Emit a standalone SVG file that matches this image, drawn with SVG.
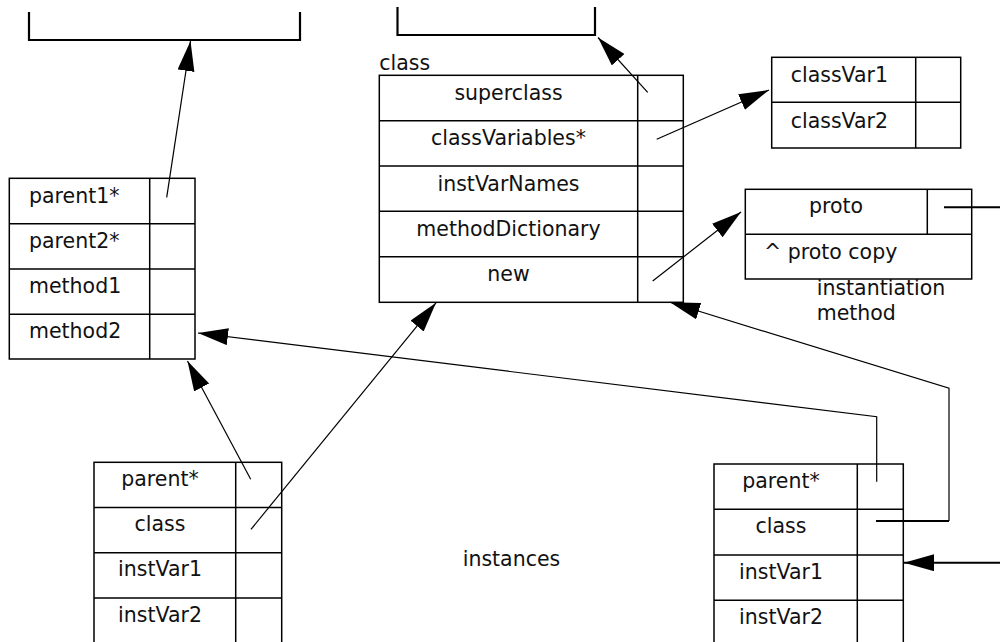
<svg xmlns="http://www.w3.org/2000/svg" width="1000" height="642" viewBox="0 0 1000 642">
  <style>
    text { font-family: "DejaVu Sans", Verdana, sans-serif; font-size: 20.5px; fill: #111; }
    .mid { text-anchor: middle; }
    .box { fill: #fff; stroke: #000; stroke-width: 1.5; }
    .div { stroke: #000; stroke-width: 1.5; fill: none; }
    .bracket { fill: none; stroke: #000; stroke-width: 2.2; }
    .link { fill: none; stroke: #000; stroke-width: 1.2; }
    .heavy { fill: none; stroke: #000; stroke-width: 2; }
  </style>
  <defs>
    <marker id="arrow" markerUnits="userSpaceOnUse" markerWidth="31" markerHeight="18" refX="30" refY="8.5" orient="auto">
      <path d="M0,0 L30,8.5 L0,17 z" fill="#000"/>
    </marker>
  </defs>

  <rect width="1000" height="642" fill="#fff"/>

  <!-- open-topped targets at the top edge -->
  <g id="target-left">
    <path class="bracket" d="M29,12 V40 H300 V12"/>
  </g>
  <g id="target-mid">
    <path class="bracket" d="M397.5,7 V35 H595 V7"/>
  </g>

  <!-- parent object with two parents and two methods -->
  <g id="parent-object">
    <rect class="box" x="9.3" y="178.3" width="185.7" height="180.7"/>
    <path class="div" d="M149.7,178.3 V359 M9.3,223.7 H195 M9.3,269 H195 M9.3,314.3 H195"/>
    <text x="29" y="202.5">parent1*</text>
    <text x="29" y="247.8">parent2*</text>
    <text x="29" y="293">method1</text>
    <text x="29" y="338.3">method2</text>
  </g>

  <!-- class object -->
  <g id="class-object">
    <text x="379.3" y="70">class</text>
    <rect class="box" x="379.3" y="75.3" width="304" height="227"/>
    <path class="div" d="M637.7,75.3 V302.3 M379.3,120.7 H683.3 M379.3,166 H683.3 M379.3,211.3 H683.3 M379.3,256.7 H683.3"/>
    <text class="mid" x="508.5" y="100">superclass</text>
    <text class="mid" x="508.5" y="145.3">classVariables*</text>
    <text class="mid" x="508.5" y="190.7">instVarNames</text>
    <text class="mid" x="508.5" y="236">methodDictionary</text>
    <text class="mid" x="508.5" y="281.3">new</text>
  </g>

  <!-- class variables -->
  <g id="class-vars">
    <rect class="box" x="771.7" y="57.3" width="189" height="90.7"/>
    <path class="div" d="M915.7,57.3 V148 M771.7,102.3 H960.7"/>
    <text x="790.7" y="82.3">classVar1</text>
    <text x="790.7" y="127.5">classVar2</text>
  </g>

  <!-- instantiation method -->
  <g id="instantiation-method">
    <rect class="box" x="745.3" y="189.3" width="226.4" height="89.7"/>
    <path class="div" d="M927.3,189.3 V234.3 M745.3,234.3 H971.7"/>
    <text class="mid" x="836" y="213">proto</text>
    <text x="764" y="259">^ proto copy</text>
    <text x="816.7" y="295">instantiation</text>
    <text x="816.7" y="320">method</text>
  </g>

  <!-- instance objects -->
  <g id="instance-left">
    <rect class="box" x="94" y="462.3" width="187.7" height="190"/>
    <path class="div" d="M235.7,462.3 V652 M94,507.5 H281.7 M94,552.7 H281.7 M94,598 H281.7"/>
    <text class="mid" x="160" y="485.5">parent*</text>
    <text class="mid" x="160" y="531">class</text>
    <text class="mid" x="160" y="576.3">instVar1</text>
    <text class="mid" x="160" y="621.5">instVar2</text>
  </g>

  <g id="instance-right">
    <rect class="box" x="714" y="464" width="189.3" height="190"/>
    <path class="div" d="M857.3,464 V654 M714,509.3 H903.3 M714,555 H903.3 M714,600.3 H903.3"/>
    <text class="mid" x="781" y="487.5">parent*</text>
    <text class="mid" x="781" y="533">class</text>
    <text class="mid" x="781" y="578.5">instVar1</text>
    <text class="mid" x="781" y="623.5">instVar2</text>
  </g>

  <text id="instances-label" x="462.7" y="565.7">instances</text>

  <!-- connectors -->
  <g id="connectors">
    <line class="link" x1="166.7" y1="197.3" x2="190.5" y2="41" marker-end="url(#arrow)"/>
    <line class="link" x1="647.7" y1="92.3" x2="598" y2="37.5" marker-end="url(#arrow)"/>
    <line class="link" x1="656.7" y1="139.3" x2="769" y2="90" marker-end="url(#arrow)"/>
    <line class="link" x1="652.7" y1="281" x2="741" y2="212" marker-end="url(#arrow)"/>
    <line class="heavy" x1="944" y1="207.3" x2="1000" y2="207.3"/>
    <line class="link" x1="250.7" y1="479.3" x2="187.5" y2="361" marker-end="url(#arrow)"/>
    <line class="link" x1="251" y1="529.3" x2="436" y2="302.8" marker-end="url(#arrow)"/>
    <polyline class="link" points="876.7,481.7 876.7,416.7 198,333" marker-end="url(#arrow)"/>
    <path class="link" d="M949,521 V388.3 L670,302.3" marker-end="url(#arrow)"/>
    <line class="heavy" x1="876" y1="521" x2="949" y2="521"/>
    <line class="heavy" x1="1000" y1="562.7" x2="904" y2="562.7" marker-end="url(#arrow)"/>
  </g>
</svg>
